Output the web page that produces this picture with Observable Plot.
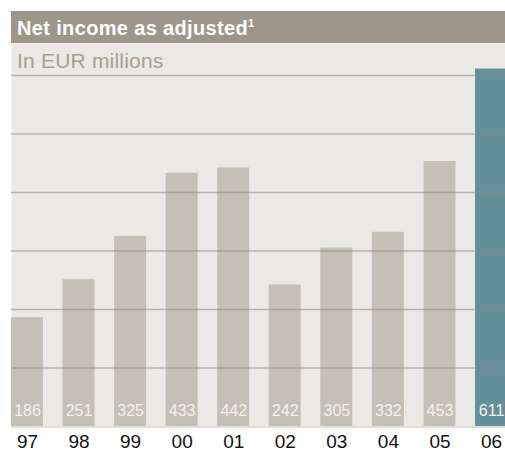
<!DOCTYPE html>
<html>
<head>
<meta charset="utf-8">
<script src="https://cdn.jsdelivr.net/npm/d3@7"></script>
<script src="https://cdn.jsdelivr.net/npm/@observablehq/plot@0.6"></script>
<style>
  html, body { margin: 0; padding: 0; background: #ffffff; overflow: hidden; width: 505px; height: 451px; }
  #wrap { position: relative; width: 505px; height: 451px; font-family: "Liberation Sans", Arial, Helvetica, sans-serif; }
  #title { position: absolute; left: 11px; top: 11px; width: 494px; height: 32px; background: #9d968a; color: #ffffff;
           font-weight: bold; font-size: 20px; letter-spacing: 0.35px; line-height: 34px; padding-left: 6px; box-sizing: border-box; overflow: hidden; white-space: nowrap; }
  #title sup { font-size: 11px; vertical-align: 0; position: relative; top: -8px; }
  #subtitle { position: absolute; left: 17px; top: 45px; font-size: 21px; letter-spacing: 0.2px; line-height: 32px; color: #a59e93; z-index: 2; white-space: nowrap; }
  #chart { position: absolute; left: 0; top: 43px; }
  #chart svg { overflow: hidden; }
</style>
</head>
<body>
<div id="wrap">
  <div id="title">Net income as adjusted<sup>1</sup></div>
  <div id="subtitle">In EUR millions</div>
  <div id="chart"></div>
</div>
<script>
const years = ["97", "98", "99", "00", "01", "02", "03", "04", "05", "06"];
const values = [186, 251, 325, 433, 442, 242, 305, 332, 453, 611];
const gridValues = [100, 200, 300, 400, 500, 600];
const highlightYear = "06";

const data = years.map((year, i) => ({year, value: values[i]}));

const chart = Plot.plot({
  width: 505,
  height: 408,
  marginLeft: 11,
  marginRight: 0,
  marginTop: 0,
  marginBottom: 25,
  style: {fontFamily: "'Liberation Sans', Arial, Helvetica, sans-serif", background: "transparent"},
  x: {domain: years, range: [11, 507], paddingInner: 0.38, paddingOuter: 0, align: 0, round: false},
  y: {domain: [0, 600], range: [383, 32], axis: null},
  marks: [
    Plot.frame({fill: "#ebe9e5", stroke: null}),
    Plot.barY(data, {x: "year", y: "value", fill: d => d.year === highlightYear ? "#65909a" : "#c4bfb7"}),
    Plot.ruleY(gridValues, {stroke: "#8f887c", strokeOpacity: 0.55, strokeWidth: 1.3}),
    Plot.ruleY([0], {stroke: "#c9c4bc", strokeWidth: 1, dy: 0.5}),
    Plot.text(data, {x: "year", y: 0, text: d => String(d.value), dy: -16, lineAnchor: "middle",
                     fill: "#f4f2ee", fontSize: 16, textAnchor: "middle"}),
    Plot.axisX({tickSize: 0, tickPadding: 8, fontSize: 19, color: "#111111", label: null})
  ]
});
document.getElementById("chart").appendChild(chart);
</script>
</body>
</html>
